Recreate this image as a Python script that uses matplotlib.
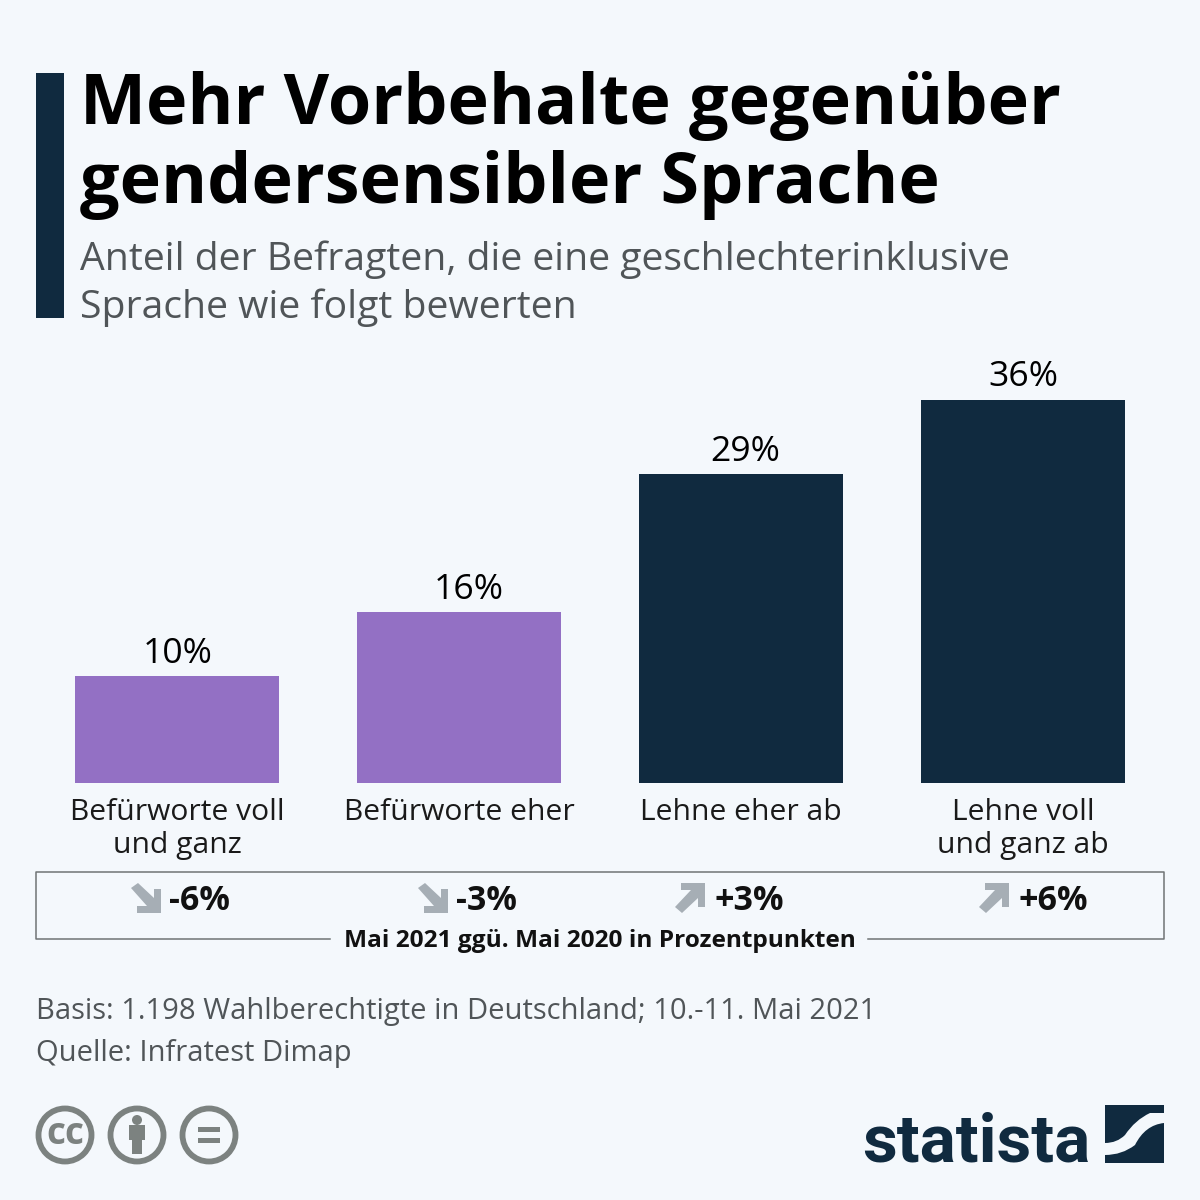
"""Statista-Grafik: Vorbehalte gegenueber gendersensibler Sprache."""
import matplotlib as mpl
import matplotlib.pyplot as plt
from matplotlib.patches import Circle, Polygon, Rectangle, PathPatch
from matplotlib.path import Path

mpl.rcParams["font.family"] = ["Open Sans", "DejaVu Sans"]

NAVY = "#102a3f"
PURPLE = "#9370c4"
BG = "#f4f8fc"
GREY_TXT = "#505558"
ICON = "#7c8280"
ARROW = "#a6aeb5"

categories = ["Befürworte voll\nund ganz", "Befürworte eher", "Lehne eher ab", "Lehne voll\nund ganz ab"]
values = [10, 16, 29, 36]
bar_colors = [PURPLE, PURPLE, NAVY, NAVY]
changes = ["-6%", "-3%", "+3%", "+6%"]
change_x = [199, 486, 749, 1053]
arrow_x = [146, 433, 690, 994]
# Die Wertelabels sitzen im Original nicht ganz mittig ueber den Balken
label_shift = [1, 10, 4, 0]

title_lines = ["Mehr Vorbehalte gegenüber", "gendersensibler Sprache"]
subtitle_lines = ["Anteil der Befragten, die eine geschlechterinklusive", "Sprache wie folgt bewerten"]
footer_lines = ["Basis: 1.198 Wahlberechtigte in Deutschland; 10.-11. Mai 2021", "Quelle: Infratest Dimap"]
box_label = "Mai 2021 ggü. Mai 2020 in Prozentpunkten"


def px(size):
    # Schriftgroesse in Pixeln -> Punkte bei dpi=100
    return size * 72 / 100


def arrow_icon(ax, cx, cy, down):
    pts = [(-15, -10), (-8, -15), (8, 0), (8, -9), (15, -9), (15, 15), (-9, 15), (-9, 8), (1, 8)]
    if not down:
        pts = [(-15, 9), (-8, 15), (8, 0), (8, 9), (15, 9), (15, -15), (-9, -15), (-9, -8), (1, -8)]
    ax.add_patch(Polygon([(cx + x, cy + y) for x, y in pts], closed=True, color=ARROW, lw=0))


def main():
    fig = plt.figure(figsize=(12, 12), dpi=100, facecolor=BG)

    # Overlay in Pixelkoordinaten fuer Kopf, Box und Fuss
    bg = fig.add_axes([0, 0, 1, 1])
    bg.set_xlim(0, 1200)
    bg.set_ylim(1200, 0)
    bg.axis("off")

    bg.add_patch(Rectangle((36, 73), 28, 245, color=NAVY, lw=0))
    for y, line in zip([106, 185], title_lines):
        bg.text(80, y, line, fontsize=px(70.1), fontweight="bold", color="black", va="center", ha="left")
    for y, line in zip([260, 308], subtitle_lines):
        bg.text(80, y, line, fontsize=px(39.1), color=GREY_TXT, va="center", ha="left")

    # Balken
    ax = fig.add_axes([36 / 1200, (1200 - 782.5) / 1200, 1128 / 1200, 400 / 1200])
    ax.patch.set_alpha(0)
    ax.bar(range(len(values)), values, width=0.72, color=bar_colors)
    ax.set_xlim(-0.5, 3.5)
    ax.set_ylim(0, 400 / 10.63)
    ax.axis("off")
    for i, v in enumerate(values):
        ax.annotate(f"{v}%", (i, v), xytext=(px(label_shift[i]), 4), textcoords="offset points",
                    ha="center", va="bottom", fontsize=px(35.5), color="black")
        ax.annotate(categories[i], (i, 0), xytext=(0, -11), textcoords="offset points",
                    ha="center", va="top", fontsize=px(30), color="#1a1a1a", linespacing=1.17)

    # Veraenderungsbox
    line_kw = dict(color="#6f7475", lw=1.1)
    bg.plot([330, 36, 36, 1164, 1164, 868], [939, 939, 872, 872, 939, 939], **line_kw)
    bg.text(600, 941, box_label, fontsize=px(24.4), fontweight="bold", color="#111111", ha="center", va="center")
    for i, label in enumerate(changes):
        bg.text(change_x[i], 901, label, fontsize=px(34), fontweight="bold", color="#111111", ha="center", va="center")
        arrow_icon(bg, arrow_x[i], 898, i < 2)

    # Fusszeile
    for y, line in zip([1012, 1054], footer_lines):
        bg.text(36, y, line, fontsize=px(29.1), color=GREY_TXT, ha="left", va="center")

    # CC-Icons
    for cx in [65, 137, 209]:
        bg.add_patch(Circle((cx, 1135), 26.5, fc="none", ec=ICON, lw=4.2))
    bg.text(65, 1134, "cc", fontsize=px(37), fontweight="bold", color=ICON, ha="center", va="center")
    bg.add_patch(Circle((137, 1120), 5, color=ICON, lw=0))
    bg.add_patch(Polygon([(129, 1125), (145, 1125), (145, 1140), (142, 1140), (142, 1154),
                          (132, 1154), (132, 1140), (129, 1140)], closed=True, color=ICON, lw=0))
    bg.add_patch(Rectangle((198, 1127), 22, 5, color=ICON, lw=0))
    bg.add_patch(Rectangle((198, 1138), 22, 5, color=ICON, lw=0))

    # Logo
    bg.text(976, 1162, "statista", fontsize=px(67.5), fontweight="bold", color=NAVY,
            family=["Roboto", "Open Sans"], ha="center", va="baseline")
    upper = Path([(1105, 1105), (1164, 1105), (1164, 1113), (1150, 1113), (1135, 1120), (1125, 1135),
                  (1117, 1143), (1105, 1143), (1105, 1105)],
                 [Path.MOVETO, Path.LINETO, Path.LINETO, Path.LINETO, Path.CURVE3, Path.CURVE3,
                  Path.CURVE3, Path.CURVE3, Path.CLOSEPOLY])
    lower = Path([(1164, 1123), (1164, 1163), (1105, 1163), (1105, 1155), (1122, 1155), (1135, 1145),
                  (1145, 1125), (1164, 1123), (1164, 1123)],
                 [Path.MOVETO, Path.LINETO, Path.LINETO, Path.LINETO, Path.CURVE3, Path.CURVE3,
                  Path.CURVE3, Path.CURVE3, Path.CLOSEPOLY])
    bg.add_patch(PathPatch(upper, fc=NAVY, lw=0))
    bg.add_patch(PathPatch(lower, fc=NAVY, lw=0))

    fig.savefig("out.png", dpi=100, facecolor=BG)


if __name__ == "__main__":
    main()
